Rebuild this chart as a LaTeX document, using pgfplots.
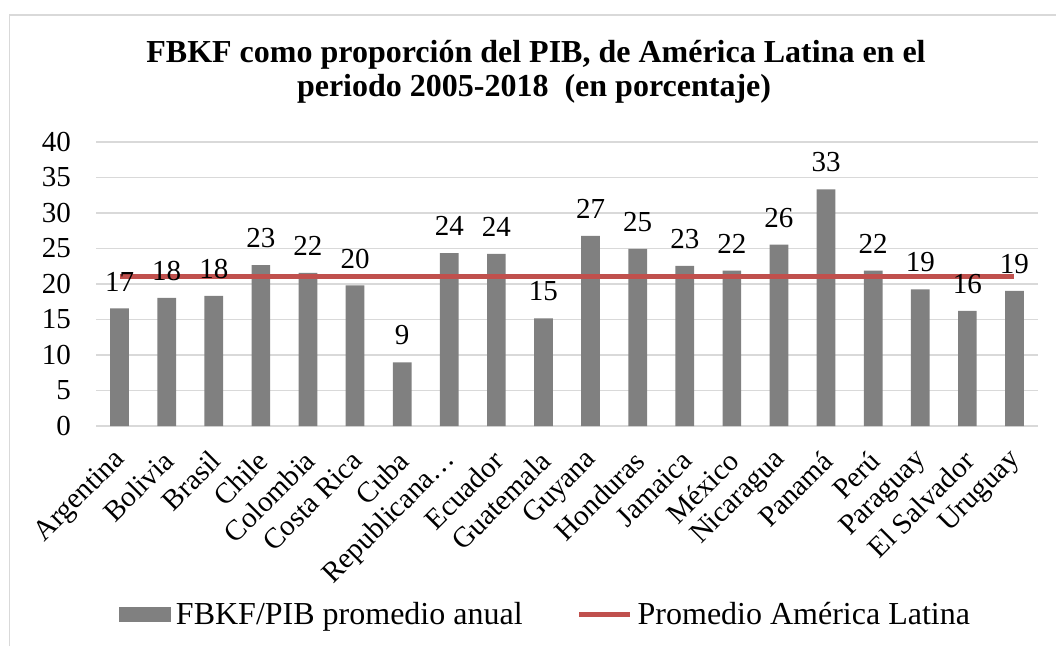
\documentclass[border=0pt]{standalone}
\usepackage{fontspec}
\setmainfont{Liberation Serif}
\usepackage{pgfplots}
\usepackage{pgfplotstable}
\pgfplotsset{compat=1.18}
\definecolor{bargray}{HTML}{808080}
\definecolor{avgred}{HTML}{C0504D}
\definecolor{gridgray}{HTML}{D9D9D9}
\pgfplotstableread{
x val avg
0 16.55 21.05
1 18.05 21.05
2 18.33 21.05
3 22.65 21.05
4 21.57 21.05
5 19.79 21.05
6 8.96 21.05
7 24.34 21.05
8 24.24 21.05
9 15.15 21.05
10 26.78 21.05
11 24.95 21.05
12 22.56 21.05
13 21.90 21.05
14 25.55 21.05
15 33.34 21.05
16 21.90 21.05
17 19.23 21.05
18 16.23 21.05
19 19.04 21.05
}\datatable
\newcommand{\tickfont}{\fontsize{29}{34}\selectfont}
\begin{document}
\begin{tikzpicture}[x=1pt,y=1pt]
\useasboundingbox (0,0) rectangle (1056,646);
\draw[gridgray, line width=1.5pt] (9.5,0) -- (9.5,631) -- (1060,631);
\node[font=\fontsize{32}{35}\selectfont\bfseries, anchor=base, inner sep=0pt] at (536,583) {FBKF como proporción del PIB, de América Latina en el};
\node[font=\fontsize{32}{35}\selectfont\bfseries, anchor=base, inner sep=0pt] at (534,549) {periodo 2005-2018\ \ (en porcentaje)};
\begin{axis}[
  at={(96pt,220pt)}, anchor=south west,
  scale only axis, width=942pt, height=284pt,
  xmin=-0.5, xmax=19.5, ymin=0, ymax=40,
  ytick={0,5,...,40},
  xtick={0,...,19},
  xticklabels={Argentina,Bolivia,Brasil,Chile,Colombia,Costa Rica,Cuba,Republicana…,Ecuador,Guatemala,Guyana,Honduras,Jamaica,México,Nicaragua,Panamá,Perú,Paraguay,El Salvador,Uruguay},
  axis line style={draw=none},
  major tick length=0pt,
  ymajorgrids,
  grid style={gridgray, line width=1.3pt},
  /pgf/number format/fixed,
  /pgf/number format/precision=0,
  /pgf/number format/assume math mode=true,
  yticklabel style={font=\tickfont, anchor=east, inner sep=0pt, xshift=-25pt},
  xticklabel style={font=\tickfont, inner sep=0pt, xshift=2pt, yshift=-30pt, rotate=45, anchor=east},
  clip=false,
  legend columns=2,
  legend style={draw=none, fill=none, inner sep=0pt, outer sep=0pt,
    font=\fontsize{32}{36}\selectfont,
    at={(0.0244,-0.662)}, anchor=west,
    nodes={inner sep=0pt},
    /tikz/every odd column/.append style={column sep=5pt},
    /tikz/every even column/.append style={column sep=54pt}},
  legend cell align=left,
]
\addplot[ybar, bar width=18.7pt, fill=bargray, draw=none,
  legend image code/.code={\fill[bargray] (0pt,-7.5pt) rectangle (52pt,7.5pt);}]
  table[x=x, y=val]{\datatable};
\addlegendentry{FBKF/PIB promedio anual}
\addplot[avgred, line width=5pt, mark=none,
  legend image code/.code={\draw[avgred, line width=5pt] (0pt,0pt) -- (51pt,0pt);}]
  table[x=x, y=avg]{\datatable};
\addlegendentry{Promedio América Latina}
\addplot[ybar, bar width=18.7pt, draw=none, fill=none, forget plot,
  nodes near coords,
  nodes near coords style={font=\tickfont, inner sep=0pt, yshift=17pt, text=black}]
  table[x=x, y=val]{\datatable};
\end{axis}
\end{tikzpicture}
\end{document}
